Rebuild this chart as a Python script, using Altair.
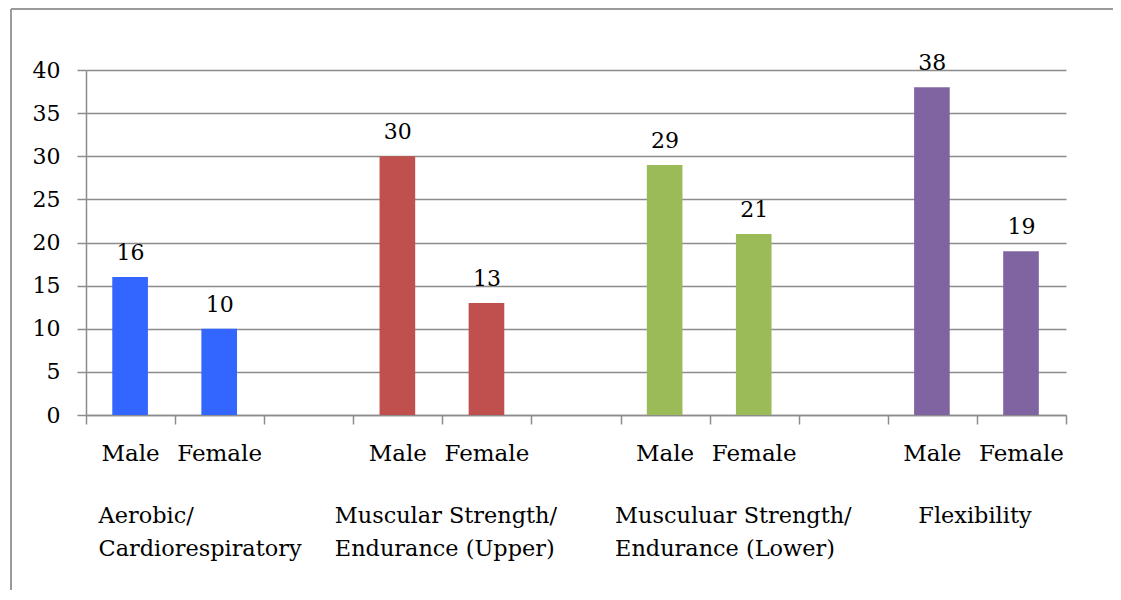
import altair as alt
import pandas as pd

groups = ["Aerobic/\nCardiorespiratory",
          "Muscular Strength/\nEndurance (Upper)",
          "Musculuar Strength/\nEndurance (Lower)",
          "Flexibility"]
sexes = ["Male", "Female"]
male_values = [16, 30, 29, 38]
female_values = [10, 13, 21, 19]
group_colors = ["#3366FF", "#C0504D", "#9BBB59", "#8064A2"]
y_ticks = [0, 5, 10, 15, 20, 25, 30, 35, 40]

rows = []
for g, cat in enumerate(groups):
    for s, sex in enumerate(sexes):
        vals = male_values if s == 0 else female_values
        rows.append({"group": cat, "sex": sex, "slot": 3 * g + s, "value": vals[g]})
df = pd.DataFrame(rows)

FONT = "DejaVu Serif"
CAT_FONT = "DejaVu Serif"
GRID = "#8c8c8c"
W, H = 980, 345

xscale = alt.Scale(domain=[0, 11], nice=False, zero=False)
xaxis = alt.Axis(values=list(range(12)), labels=False, title=None, grid=False,
                 ticks=True, tickSize=9, tickColor=GRID, tickWidth=1.5,
                 domainColor=GRID, domainWidth=1.5)
yscale = alt.Scale(domain=[0, 40], nice=False)
yaxis = alt.Axis(values=y_ticks, title=None, grid=True, gridColor=GRID, gridWidth=1.5,
                 tickSize=9, tickColor=GRID, tickWidth=1.5, domainColor=GRID,
                 domainWidth=1.5, labelFont=FONT, labelFontSize=22, labelColor="black",
                 labelPadding=17)
color = alt.Color("group:N", scale=alt.Scale(domain=groups, range=group_colors), legend=None)

base = alt.Chart(df)

bars = base.transform_calculate(
    x0="datum.slot + 0.295", x1="datum.slot + 0.695"
).mark_bar().encode(
    x=alt.X("x0:Q", scale=xscale, axis=xaxis),
    x2="x1:Q",
    y=alt.Y("value:Q", scale=yscale, axis=yaxis),
    y2=alt.datum(0),
    color=color,
)

value_labels = base.transform_calculate(xc="datum.slot + 0.5").mark_text(
    font=FONT, fontSize=22, color="black", baseline="alphabetic", dy=-17
).encode(
    x=alt.X("xc:Q", scale=xscale, axis=xaxis),
    y=alt.Y("value:Q", scale=yscale, axis=yaxis),
    text="value:Q",
)

sex_labels = base.transform_calculate(xc="datum.slot + 0.5").mark_text(
    font=FONT, fontSize=23, color="black", baseline="alphabetic"
).encode(
    x=alt.X("xc:Q", scale=xscale, axis=xaxis),
    y=alt.value(391),
    text="sex:N",
)

label_dx = [-32, -63, -50, -14]
cat_layers = []
for g, cat in enumerate(groups):
    cat_layers.append(
        base.transform_filter(
            (alt.datum.group == cat) & (alt.datum.sex == "Male")
        ).transform_calculate(xc="datum.slot + 0.5").mark_text(
            font=CAT_FONT, fontSize=22.4, color="black", align="left",
            baseline="alphabetic", lineBreak="\n", lineHeight=33, dx=label_dx[g]
        ).encode(
            x=alt.X("xc:Q", scale=xscale, axis=xaxis),
            y=alt.value(453),
            text="group:N",
        )
    )

border_top = base.mark_rule(color="#9a9a9a", strokeWidth=2).encode(
    x=alt.value(-75), x2=alt.value(1040), y=alt.value(-61)
)
border_left = base.mark_rule(color="#9a9a9a", strokeWidth=1.5).encode(
    x=alt.value(-75), y=alt.value(-61), y2=alt.value(520)
)

chart = alt.layer(bars, value_labels, sex_labels, *cat_layers, border_top, border_left).properties(
    width=W, height=H,
    autosize=alt.AutoSizeParams(type="none"),
    padding={"left": 78, "top": 62, "right": 47, "bottom": 177},
).configure_view(stroke=None)

chart.save("out.html", embed_options={"renderer": "svg", "actions": False})
